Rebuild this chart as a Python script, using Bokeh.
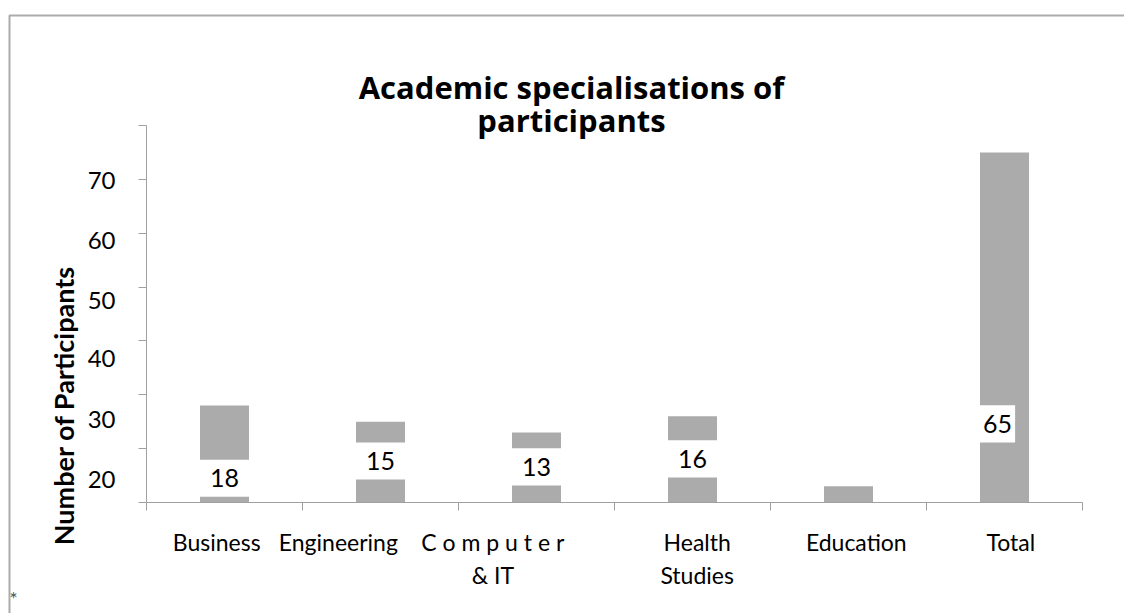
import math
from bokeh.plotting import figure
from bokeh.models import Range1d, FixedTicker, LinearAxis, BoxAnnotation
from bokeh.embed import file_html
from bokeh.resources import INLINE
from bokeh.core.properties import value

# ---------------- data ----------------
categories = ["Business", "Engineering", "Computer & IT", "Health Studies", "Education", "Total"]
category_labels = ["Business", "Engineering", "C o m p u t e r\n& IT", "Health\nStudies", "Education", "Total"]
participants = [18, 15, 13, 16, 3, 65]
data_labels = ["18", "15", "13", "16", "", "65"]
ytick_labels = ["70", "60", "50", "40", "30", "20"]
title_lines = ["Academic specialisations of", "participants"]
y_title = "Number of Participants"

# ---------------- layout / style ----------------
FONT = "Lato"
TITLE_FONT = "Open Sans"
BAR = "#ABABAB"
AXIS = "#A0A0A0"
W, H = 1124, 613
PX_X = 156.0      # pixels per category
PX_Y = 5.386      # pixels per participant
X0, Y0 = 146, 502  # pixel position of the axes origin
bar_w = 0.314
ytick_label_pos = [59.8, 48.7, 37.5, 26.7, 15.4, 4.3]
xlabel_pos = [0.45, 1.23, 2.22, 3.53, 4.55, 5.54]
box_center = [4.5, 7.7, 6.6, 8.1, None, 14.6]
box_width = [bar_w, bar_w, bar_w, bar_w, bar_w, 0.225]
box_h = 6.9

def dx(px):
    return (px - X0) / PX_X

def dy(py):
    return (Y0 - py) / PX_Y

p = figure(width=W, height=H, output_backend="svg", toolbar_location=None,
           x_range=Range1d(dx(0), dx(W)), y_range=Range1d(dy(H), dy(0)),
           x_axis_location=None, y_axis_location=None, min_border=0)
p.outline_line_color = None
p.grid.visible = False
p.background_fill_color = "white"
p.border_fill_color = "white"

xs = [i + 0.5 for i in range(len(categories))]
p.vbar(x=xs, top=participants, bottom=0, width=bar_w, fill_color=BAR, line_color=None)

# data label boxes
bl, br, bb, bt, tx, ty, tt = [], [], [], [], [], [], []
for i, c in enumerate(box_center):
    if c is None or not data_labels[i]:
        continue
    left = xs[i] - bar_w / 2
    bl.append(left); br.append(left + box_width[i])
    bb.append(c - box_h / 2); bt.append(c + box_h / 2)
    tx.append(left + box_width[i] / 2); ty.append(c); tt.append(data_labels[i])
p.quad(left=bl, right=br, bottom=bb, top=bt, fill_color="white", line_color=None)
p.text(x=tx, y=ty, text=tt, text_align="center", text_baseline="middle",
       text_font=value(FONT), text_font_size="25px", text_color="black")

# y axis
ya = LinearAxis(fixed_location=0, bounds=(0, 70),
                ticker=FixedTicker(ticks=ytick_label_pos, minor_ticks=[0, 10, 20, 30, 40, 50, 60, 70]))
ya.major_label_overrides = {t: l for t, l in zip(ytick_label_pos, ytick_labels)}
ya.major_tick_line_color = None
ya.major_tick_out = 8
ya.major_tick_in = 0
ya.minor_tick_out = 8
ya.minor_tick_in = 0
ya.minor_tick_line_color = AXIS
ya.axis_line_color = AXIS
ya.major_label_standoff = 23
ya.major_label_text_font = FONT
ya.major_label_text_font_size = "24px"
ya.major_label_text_color = "black"
p.add_layout(ya, "left")

# x axis
xa = LinearAxis(fixed_location=0, bounds=(0, 6),
                ticker=FixedTicker(ticks=xlabel_pos, minor_ticks=[0, 1, 2, 3, 4, 5, 6]))
xa.major_label_overrides = {t: l for t, l in zip(xlabel_pos, category_labels)}
xa.major_tick_line_color = None
xa.major_tick_out = 8
xa.major_tick_in = 0
xa.minor_tick_out = 8
xa.minor_tick_in = 0
xa.minor_tick_line_color = AXIS
xa.axis_line_color = AXIS
xa.major_label_standoff = 17
xa.major_label_text_font = FONT
xa.major_label_text_font_size = "23px"
xa.major_label_text_color = "black"
p.add_layout(xa, "below")

# title (two centred lines)
p.text(x=[dx(571), dx(571)], y=[dy(86), dy(119)], text=title_lines,
       text_align="center", text_baseline="middle", text_font=value(TITLE_FONT),
       text_font_size="31px", text_font_style="bold", text_color="black")

# y axis title
p.text(x=[dx(63)], y=[dy(405)], text=[y_title], angle=math.pi / 2,
       text_align="center", text_baseline="middle", text_font=value(FONT),
       text_font_size="27px", text_font_style="bold", text_color="black")

# footnote mark
p.text(x=[dx(13)], y=[dy(597)], text=["*"], text_align="center", text_baseline="middle",
       text_font=value(FONT), text_font_size="20px", text_color="#555555")

# chart border (left and top edges visible)
p.add_layout(BoxAnnotation(left=dx(9), right=dx(W + 50), top=dy(15), bottom=dy(H + 50),
                           fill_alpha=0, line_color="#ABABAB", line_alpha=1.0, line_width=2))

open("out.html", "w").write(file_html(p, INLINE))
